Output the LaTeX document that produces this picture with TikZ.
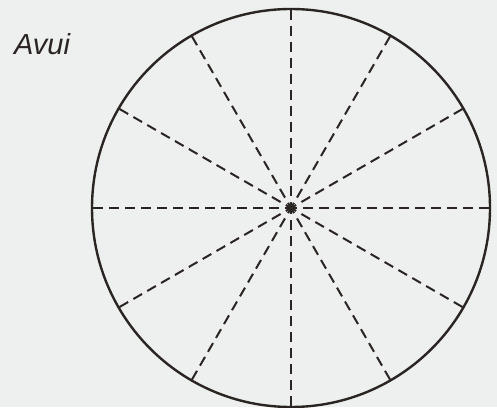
\documentclass[tikz,border=0pt]{standalone}
\usepackage{fontspec}
\setsansfont{Liberation Sans}
\usetikzlibrary{calc}
\definecolor{ink}{HTML}{2A2422}
\definecolor{paper}{HTML}{EDF0EF}

\begin{document}
\begin{tikzpicture}[x=1pt,y=1pt,font=\sffamily,text=ink,
  rim/.style={ink,line width=2.4pt},
  spoke/.style={ink,line width=2pt,dash pattern=on 10pt off 6pt}]
  \fill[paper] (0,0) rectangle (497,407);
  \useasboundingbox (0,0) rectangle (497,407);
  \coordinate (c) at (291,199);
  \node[font=\sffamily\itshape\fontsize{29}{34}\selectfont] (avui) at (42,363) {Avui};
  % spokes every 30 degrees
  \foreach \a in {0,30,...,330}{
    \coordinate (r\a) at ($(c)+(\a:198)$);
    \draw[spoke] (r\a) -- (c);
  }
  \draw[rim] (c) circle (199);
  \fill[ink] (c) circle (3);
\end{tikzpicture}
\end{document}
